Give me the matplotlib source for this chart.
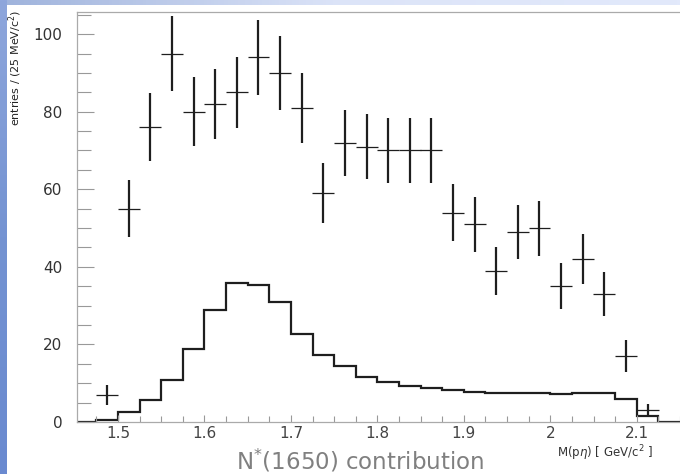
import numpy as np
import matplotlib
matplotlib.use("Agg")
import matplotlib.pyplot as plt
from matplotlib.ticker import MultipleLocator

# measured data points (bin centres, 25 MeV bins)
mass = [1.4875, 1.5125, 1.5375, 1.5625, 1.5875, 1.6125, 1.6375, 1.6625,
        1.6875, 1.7125, 1.7375, 1.7625, 1.7875, 1.8125, 1.8375, 1.8625,
        1.8875, 1.9125, 1.9375, 1.9625, 1.9875, 2.0125, 2.0375, 2.0625,
        2.0875, 2.1125]
entries = [7, 55, 76, 95, 80, 82, 85, 94, 90, 81, 59, 72, 71, 70, 70, 70,
           54, 51, 39, 49, 50, 35, 42, 33, 17, 3]
errors = [2.6, 7.4, 8.7, 9.7, 8.9, 9.1, 9.2, 9.7, 9.5, 9.0, 7.7, 8.5, 8.4,
          8.4, 8.4, 8.4, 7.3, 7.1, 6.2, 7.0, 7.1, 5.9, 6.5, 5.7, 4.1, 1.7]
half_bin = 0.0127

# N*(1650) contribution histogram
hist_edges = [1.45, 1.475, 1.5, 1.525, 1.55, 1.575, 1.6, 1.625, 1.65, 1.675,
              1.7, 1.725, 1.75, 1.775, 1.8, 1.825, 1.85, 1.875, 1.9, 1.925,
              1.95, 1.975, 2.0, 2.025, 2.05, 2.075, 2.1, 2.125, 2.15]
hist_vals = [0, 0.5, 2.6, 5.7, 10.8, 18.8, 28.9, 35.9, 35.4, 31.0, 22.7,
             17.3, 14.5, 11.7, 10.2, 9.4, 8.8, 8.2, 7.7, 7.6, 7.5, 7.4, 7.3,
             7.5, 7.5, 5.9, 1.5, 0]

W, H = 680, 474
fig = plt.figure(figsize=(W / 100, H / 100), dpi=100)
fig.patch.set_facecolor("white")

# slide background strips
top = fig.add_axes([0, 1 - 5 / H, 1, 5 / H])
top.imshow(np.linspace(0, 1, 200)[None, :], cmap=matplotlib.colors.LinearSegmentedColormap.from_list(
    "t", ["#9fb3dc", "#dce4f8", "#e2e9fb"]), aspect="auto")
top.axis("off")
left = fig.add_axes([0, 0, 7 / W, 1])
left.imshow(np.linspace(0, 1, 200)[:, None], cmap=matplotlib.colors.LinearSegmentedColormap.from_list(
    "l", ["#8ea6dc", "#7493d2", "#6a8ad0"]), aspect="auto")
left.axis("off")

ax = fig.add_axes([77 / W, 52 / H, (W - 77) / W, (422 - 12) / H])
ax.stairs(hist_vals, hist_edges, color="#1e1e1e", lw=1.6, baseline=None)
# vertical (statistical) bars thicker than the bin-width bars
ax.errorbar(mass, entries, yerr=errors, fmt="none",
            ecolor="#1e1e1e", elinewidth=1.6, capsize=0)
ax.errorbar(mass, entries, xerr=half_bin, fmt="none",
            ecolor="#1e1e1e", elinewidth=0.9, capsize=0)

ax.set_xlim(1.4526, 2.15)
ax.set_ylim(0, 105.7)
ax.xaxis.set_major_locator(MultipleLocator(0.1))
ax.xaxis.set_minor_locator(MultipleLocator(0.025))
ax.yaxis.set_major_locator(MultipleLocator(20))
ax.yaxis.set_minor_locator(MultipleLocator(5))
ax.set_xticks([1.5, 1.6, 1.7, 1.8, 1.9, 2.0, 2.1])
ax.set_xticklabels(["1.5", "1.6", "1.7", "1.8", "1.9", "2", "2.1"])

ax.tick_params(axis="y", which="major", direction="in", length=12, width=0.8,
               color="#999999", pad=10.5, labelsize=11, labelcolor="#333333")
ax.tick_params(axis="y", which="minor", direction="in", length=10, width=0.8,
               color="#999999")
ax.tick_params(axis="x", which="major", direction="in", length=5, width=0.8,
               color="#999999", pad=3, labelsize=11, labelcolor="#444444")
ax.tick_params(axis="x", which="minor", direction="in", length=4, width=0.8,
               color="#999999")
for s in ["left", "bottom", "top"]:
    ax.spines[s].set_color("#aaaaaa")
    ax.spines[s].set_linewidth(0.9)
ax.spines["right"].set_visible(False)

fig.text(15 / W, 1 - 10 / H, "entries / (25 MeV/c$^2$)", rotation=90,
         ha="center", va="top", fontsize=8, color="#222222")
fig.text(557 / W, 1 - 443 / H, "M(p$\\eta$) [ GeV/c$^2$ ]", ha="left",
         va="top", fontsize=8.5, color="#333333")
fig.text(360 / W, 1 - 461 / H, "N$^{*}$(1650) contribution", ha="center",
         va="center", fontsize=16.5, color="#808080")

fig.savefig("out.png", dpi=100)
